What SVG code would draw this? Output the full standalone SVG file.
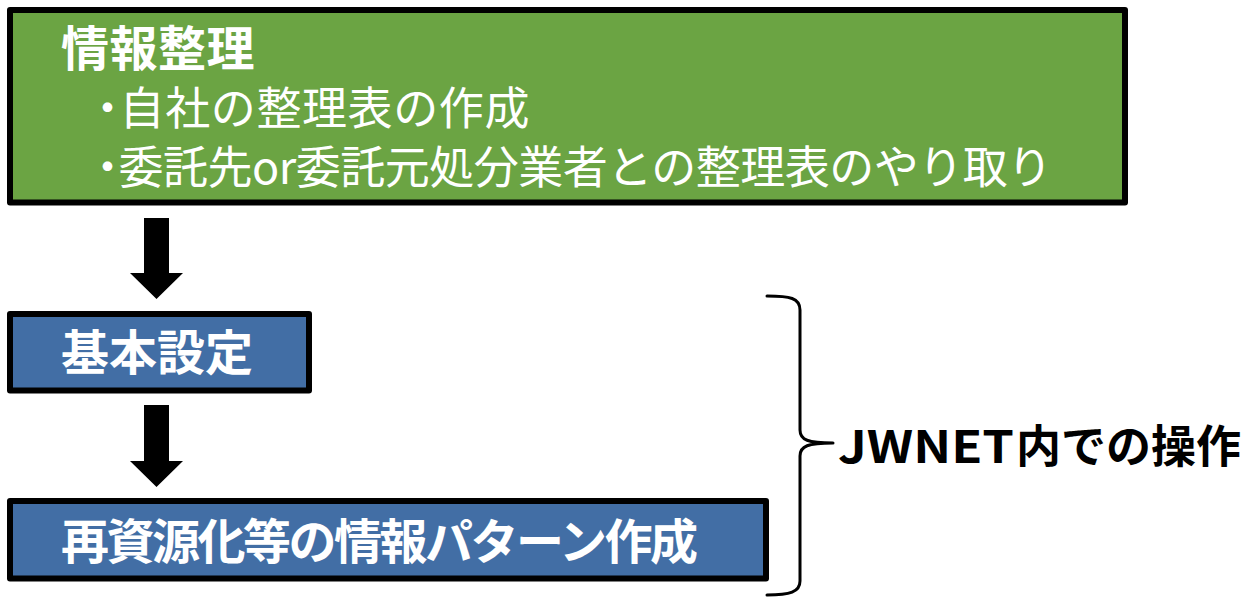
<svg xmlns="http://www.w3.org/2000/svg" width="1252" height="606" viewBox="0 0 1252 606">
  <style>
    .box { stroke: #000; stroke-width: 6; stroke-linejoin: round; }
    .green { fill: #6BA443; }
    .blue { fill: #426EA5; }
    .t { font-family: "Noto Sans CJK JP", "Noto Sans", sans-serif; fill: #fff; }
    .b { font-weight: 700; font-size: 48px; }
    .r { font-weight: 400; font-size: 45px; }
    .arrow { fill: #000; }
    .brace { fill: none; stroke: #000; stroke-width: 3; stroke-linecap: round; stroke-linejoin: round; }
    .label { font-family: "Noto Sans CJK JP", "Noto Sans", sans-serif; font-weight: 700; font-size: 45px; fill: #000; }
  </style>
  <rect x="0" y="0" width="1252" height="606" fill="#fff"/>
  <g id="node-info">
    <rect class="box green" x="10" y="10" width="1115" height="192.5"/>
    <text class="t b" x="61" y="66" letter-spacing="0.5">情報整理</text>
    <text class="t r" x="85" y="125" dx="0 -11" letter-spacing="0.6">・自社の整理表の作成</text>
    <text class="t r" x="85" y="184" dx="0 -11" letter-spacing="-0.5">・委託先or委託元処分業者との整理表のやり取り</text>
  </g>
  <g id="node-basic">
    <rect class="box blue" x="10" y="314" width="299" height="76.5"/>
    <text class="t b" x="61" y="370" textLength="192">基本設定</text>
  </g>
  <g id="node-pattern">
    <rect class="box blue" x="10" y="501" width="756" height="77.5"/>
    <text class="t b" x="61" y="559" textLength="637">再資源化等の情報パターン作成</text>
  </g>
  <g id="connectors">
    <polygon class="arrow" points="144,218 169,218 169,273 183,273 156.5,299 130,273 144,273"/>
    <polygon class="arrow" points="144,405 169,405 169,461 183,461 156.5,487 130,461 144,461"/>
    <path class="brace" d="M767,296 C790,296 800,298 800,310 L800,430 C800,440 808,443 833,443 C808,443 800,446 800,456 L800,581 C800,592 790,595 767,595"/>
  </g>
  <g id="label-jwnet">
    <text class="label"><tspan x="838" y="463" textLength="176" lengthAdjust="spacingAndGlyphs">JWNET</tspan><tspan x="1016" y="463">内での操作</tspan></text>
  </g>
</svg>
